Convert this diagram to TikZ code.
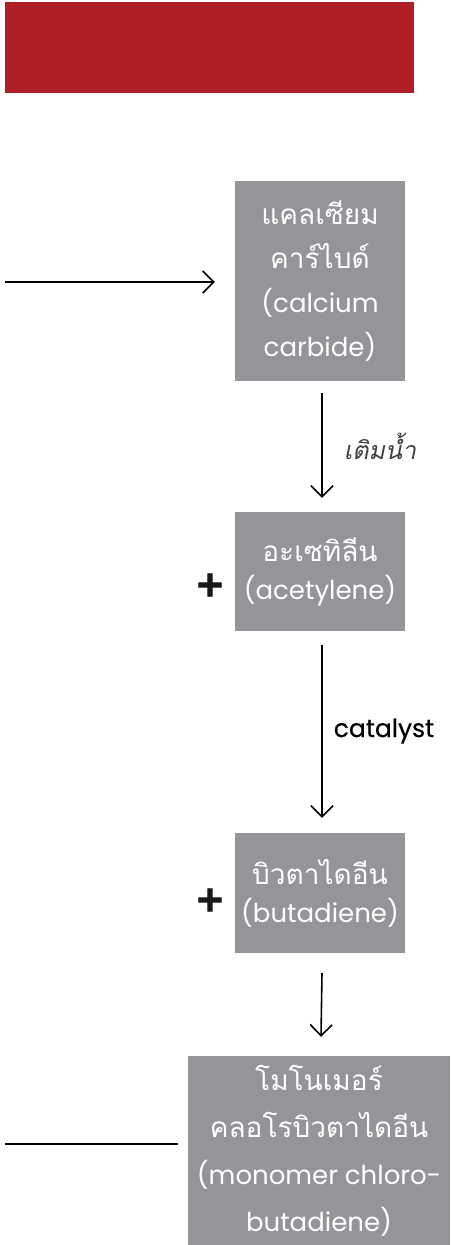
\documentclass[tikz,border=0pt]{standalone}
\usepackage{fontspec}
\setmainfont{Poppins}
\newfontfamily\thaifam[Script=Thai]{Loma}
\newcommand{\thai}{\thaifam\fontsize{28pt}{44pt}\selectfont}
\newfontfamily\thaiit[Script=Thai,FakeSlant=0.2]{Loma}
\newfontfamily\plusfont[FakeBold=2.5]{DejaVu Sans}
\newfontfamily\lblfont[FakeBold=0.6]{Poppins}
\usetikzlibrary{arrows.meta}
\definecolor{bannerred}{RGB}{175,29,37}
\definecolor{boxgray}{RGB}{147,149,152}
\tikzset{
  procbox/.style={fill=boxgray, text=white, inner sep=0pt, align=center},
  arr/.style={line width=1.6pt, -{Straight Barb[length=11pt,width=22pt]}},
  plain/.style={line width=1.6pt},
  plussign/.style={font=\plusfont\bfseries\fontsize{36pt}{36pt}\selectfont, text=black!90, inner sep=0pt},
  lbl/.style={inner sep=0pt, text=black}
}
\begin{document}
\begin{tikzpicture}[x=1pt,y=-1pt]
\useasboundingbox (0,0) rectangle (450,1245);
\fill[bannerred] (5,2) rectangle (414,93);

\node[procbox, minimum width=170pt, minimum height=200pt,
      font=\fontsize{26pt}{44pt}\selectfont] (b1) at (320,281)
  {{\thai แคลเซียม}\\{\thai คาร์ไบด์}\\(calcium\\carbide)};
\node[procbox, minimum width=170pt, minimum height=119pt,
      font=\fontsize{26pt}{38pt}\selectfont] (b2) at (320,571.5)
  {{\thai อะเซทิลีน}\\(acetylene)};
\node[procbox, minimum width=170pt, minimum height=120pt,
      font=\fontsize{26pt}{38pt}\selectfont] (b3) at (320,893)
  {{\thai บิวตาไดอีน}\\(butadiene)};
\node[procbox, minimum width=262pt, minimum height=189pt,
      font=\fontsize{26pt}{47pt}\selectfont] (b4) at (319,1150.5)
  {{\thai โมโนเมอร์}\\{\thai คลอโรบิวตาไดอีน}\\(monomer chloro-\\butadiene)};

\node[plussign] (p1) at (210,585) {+};
\node[plussign] (p2) at (210,900) {+};

\coordinate (s1) at (5,282);
\draw[arr, shorten >=20pt] (s1) -- (s1 -| b1.west);
\coordinate (s2) at (5,1144);
\draw[plain, shorten >=10pt] (s2) -- (s2 -| b4.west);

\draw[arr] ([xshift=2pt,yshift=-12pt]b1.south) -- ([xshift=2pt,yshift=14pt]b2.north);
\draw[arr] ([xshift=2pt,yshift=-14pt]b2.south) -- ([xshift=2pt,yshift=15pt]b3.north);
\draw[arr] ([xshift=2pt,yshift=-20pt]b3.south) -- ([xshift=2pt,yshift=19pt]b4.north);

\node[lbl, font=\thaiit\fontsize{25pt}{25pt}\selectfont, text=black!75] (l1) at (380,446) {เติมน้ำ};
\node[lbl, font=\lblfont\fontsize{25pt}{25pt}\selectfont] (l2) at (384,731) {catalyst};
\end{tikzpicture}
\end{document}
